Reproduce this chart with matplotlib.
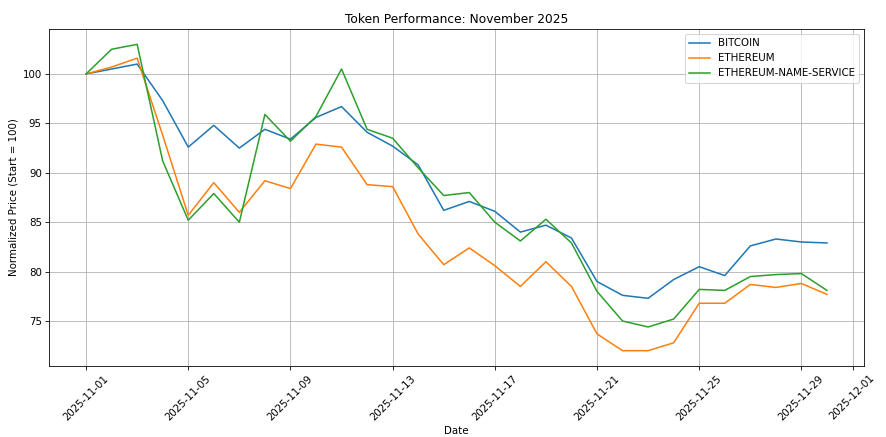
import pandas as pd
import numpy as np
import matplotlib
matplotlib.use('Agg')
import matplotlib.pyplot as plt
import matplotlib.dates as mdates

# valores normalizados (inicio = 100)
dates = pd.date_range('2025-11-01', '2025-11-30', freq='D')

bitcoin = [100.0, 100.5, 101.0, 97.3, 92.6, 94.8, 92.5, 94.4, 93.4, 95.6,
           96.7, 94.1, 92.7, 90.8, 86.2, 87.1, 86.1, 84.0, 84.7, 83.4,
           79.0, 77.6, 77.3, 79.2, 80.5, 79.6, 82.6, 83.3, 83.0, 82.9]

ethereum = [100.0, 100.7, 101.6, 93.8, 85.7, 89.0, 86.0, 89.2, 88.4, 92.9,
            92.6, 88.8, 88.6, 83.8, 80.7, 82.4, 80.6, 78.5, 81.0, 78.5,
            73.7, 72.0, 72.0, 72.8, 76.8, 76.8, 78.7, 78.4, 78.8, 77.7]

ens = [100.0, 102.5, 103.0, 91.2, 85.2, 87.9, 85.0, 95.9, 93.2, 95.7,
       100.5, 94.4, 93.5, 90.5, 87.7, 88.0, 85.0, 83.1, 85.3, 82.9,
       78.0, 75.0, 74.4, 75.2, 78.2, 78.1, 79.5, 79.7, 79.8, 78.1]

series = {'BITCOIN': bitcoin, 'ETHEREUM': ethereum, 'ETHEREUM-NAME-SERVICE': ens}

dpi = 886 / 12
fig, ax = plt.subplots(figsize=(12, 437 / dpi), dpi=dpi)
fig.subplots_adjust(left=49/886, right=864/886, top=1-29/437, bottom=1-366/437)

for name, vals in series.items():
    ax.plot(dates, vals, label=name)

ax.set_title('Token Performance: November 2025')
ax.set_xlabel('Date')
ax.set_ylabel('Normalized Price (Start = 100)')
ax.xaxis.set_major_locator(mdates.DayLocator(bymonthday=[1, 5, 9, 13, 17, 21, 25, 29]))
ax.xaxis.set_major_formatter(mdates.DateFormatter('%Y-%m-%d'))
plt.setp(ax.get_xticklabels(), rotation=45)
ax.grid(True)
ax.legend(loc='upper right')

fig.savefig('out.png', dpi=dpi)
